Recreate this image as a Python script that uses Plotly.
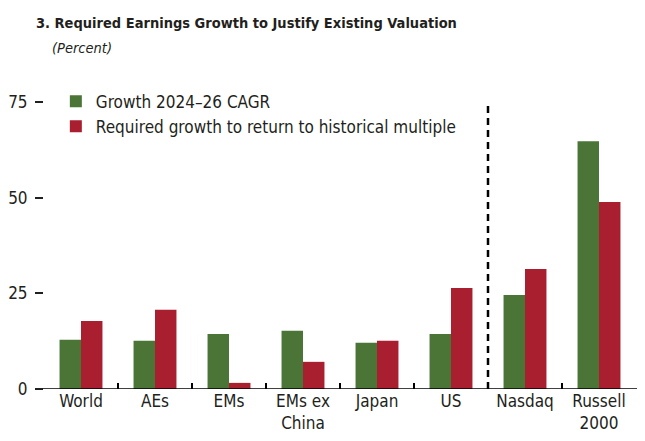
import plotly.graph_objects as go

categories = ["World", "AEs", "EMs", "EMs ex<br>China", "Japan", "US", "Nasdaq", "Russell<br>2000"]
growth_cagr = [12.9, 12.6, 14.4, 15.2, 12.1, 14.4, 24.6, 64.8]
required_growth = [17.8, 20.7, 1.6, 7.1, 12.6, 26.4, 31.4, 48.9]
y_ticks = [0, 25, 50, 75]

FONT = "DejaVu Sans Condensed, Liberation Sans Narrow, sans-serif"
GREEN = "#4a7536"
RED = "#a91f30"
TXT = "#231f20"

fig = go.Figure()
fig.add_trace(go.Bar(x=categories, y=growth_cagr, name="Growth 2024–26 CAGR",
                     marker=dict(color=GREEN, line=dict(width=0))))
fig.add_trace(go.Bar(x=categories, y=required_growth, name="Required growth to return to historical multiple",
                     marker=dict(color=RED, line=dict(width=0))))

# page body has an 8px margin, so the figure is sized to fill the rest of the window
fig.update_layout(
    width=637, height=433,
    margin=dict(l=36, r=9, t=75, b=52, autoexpand=False),
    paper_bgcolor="white", plot_bgcolor="white",
    barmode="group", bargap=0.42, bargroupgap=0,
    font=dict(family=FONT, size=17, color=TXT),
    showlegend=True,
    legend=dict(x=0.02, y=0.998, xanchor="left", yanchor="top",
                bgcolor="rgba(0,0,0,0)", font=dict(size=17, color=TXT),
                tracegroupgap=0, itemwidth=30),
    xaxis=dict(type="category", showgrid=False, zeroline=False, showline=False,
               ticks="inside", ticklen=6, tickwidth=1.5, tickcolor="black",
               tickson="boundaries", tickfont=dict(size=17, color=TXT),
               tickangle=0, automargin=False, range=[-0.5, 7.5]),
    yaxis=dict(range=[0, 80], tickvals=y_ticks, showgrid=False, zeroline=False,
               showline=False, ticks="outside", ticklen=8, tickwidth=1.5,
               tickcolor=TXT, mirror="ticks", tickfont=dict(size=17, color=TXT),
               ticklabelstandoff=4, automargin=False),
    shapes=[
        dict(type="line", xref="paper", yref="y", x0=-0.002, x1=1.02, y0=0, y1=0,
             line=dict(color="black", width=1.5)),
        dict(type="line", xref="x", yref="y", x0=5.5, x1=5.5, y0=0, y1=75,
             line=dict(color="black", width=2.5, dash="7px,5px")),
    ],
    annotations=[
        dict(text="<b>3. Required Earnings Growth to Justify Existing Valuation</b>",
             xref="paper", yref="paper", x=-10/592, y=1 + 50/306, xanchor="left", yanchor="bottom",
             showarrow=False, font=dict(size=14.5, color=TXT, family=FONT)),
        dict(text="<i>(Percent)</i>",
             xref="paper", yref="paper", x=6/592, y=1 + 25/306, xanchor="left", yanchor="bottom",
             showarrow=False, font=dict(size=14.5, color=TXT, family=FONT)),
    ],
)

fig.write_html("out.html")
